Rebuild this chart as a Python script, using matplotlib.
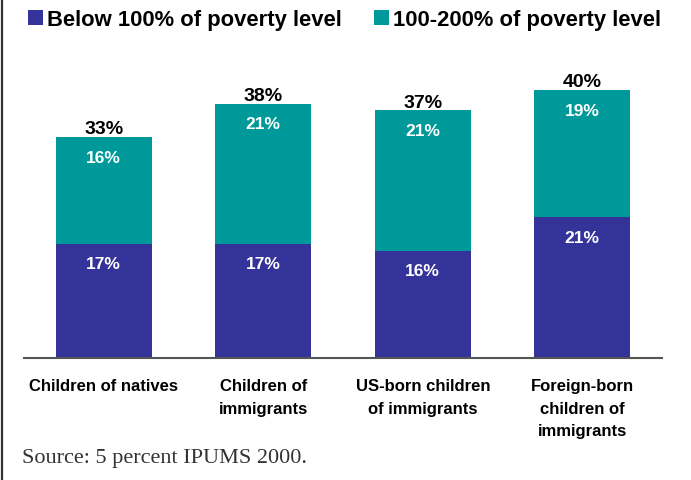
import matplotlib
matplotlib.use("Agg")
from matplotlib import pyplot as plt
from matplotlib.lines import Line2D

# data
categories = ['Children of natives', 'Children of\nimmigrants',
              'US-born children\nof immigrants', 'Foreign-born\nchildren of\nimmigrants']
below_100 = [17, 17, 16, 21]
pct_100_200 = [16, 21, 21, 19]
totals = [33, 38, 37, 40]
series_names = ['Below 100% of poverty level', '100-200% of poverty level']

blue = '#333399'
teal = '#009999'

plt.rcParams['font.family'] = ['Liberation Sans', 'DejaVu Sans']

fig = plt.figure(figsize=(6.91, 4.81), dpi=100)
ax = fig.add_axes([24/691, (481-358.5)/481, 638/691, 300.6/481])

x = list(range(len(categories)))
b1 = ax.bar(x, below_100, width=0.6, color=blue, label=series_names[0])
b2 = ax.bar(x, pct_100_200, width=0.6, bottom=below_100, color=teal, label=series_names[1])

ax.set_xlim(-0.5, 3.5)
ax.set_ylim(0, 45)

# value labels inside segments
for i in x:
    ax.annotate(f'{below_100[i]}%', (i, below_100[i]), xytext=(0, -14.4),
                textcoords='offset points', ha='center', va='center',
                color='white', fontsize=12.5, fontweight='bold')
    ax.annotate(f'{pct_100_200[i]}%', (i, below_100[i] + pct_100_200[i]), xytext=(0, -14.4),
                textcoords='offset points', ha='center', va='center',
                color='white', fontsize=12.5, fontweight='bold')
    ax.annotate(f'{totals[i]}%', (i, below_100[i] + pct_100_200[i]), xytext=(0, 6),
                textcoords='offset points', ha='center', va='center',
                color='black', fontsize=14, fontweight='bold')

for s in ['top', 'left', 'right']:
    ax.spines[s].set_visible(False)
ax.spines['bottom'].set_color('#555555')
ax.spines['bottom'].set_linewidth(1.5)
ax.set_yticks([])
ax.set_xticks(x)
ax.set_xticklabels(categories, fontsize=12, fontweight='bold', linespacing=1.6)
ax.tick_params(axis='x', length=0, pad=15)

fig.legend(handles=[b1, b2], labels=series_names, loc='center left',
           bbox_to_anchor=(28/691, 1 - 20.5/481), ncol=2, frameon=False,
           prop={'weight': 'bold', 'size': 15.8}, handlelength=0.68, handleheight=0.68,
           handletextpad=0.2, columnspacing=1.45, borderpad=0, borderaxespad=0)

fig.text(22/691, 1 - 458/481, 'Source: 5 percent IPUMS 2000.', va='center', ha='left',
         family='Liberation Serif', fontsize=16, color='#333333')

fig.add_artist(Line2D([2/691, 2/691], [0, 1], color='#333333', lw=1.6))

plt.savefig('out.png', dpi=100)
